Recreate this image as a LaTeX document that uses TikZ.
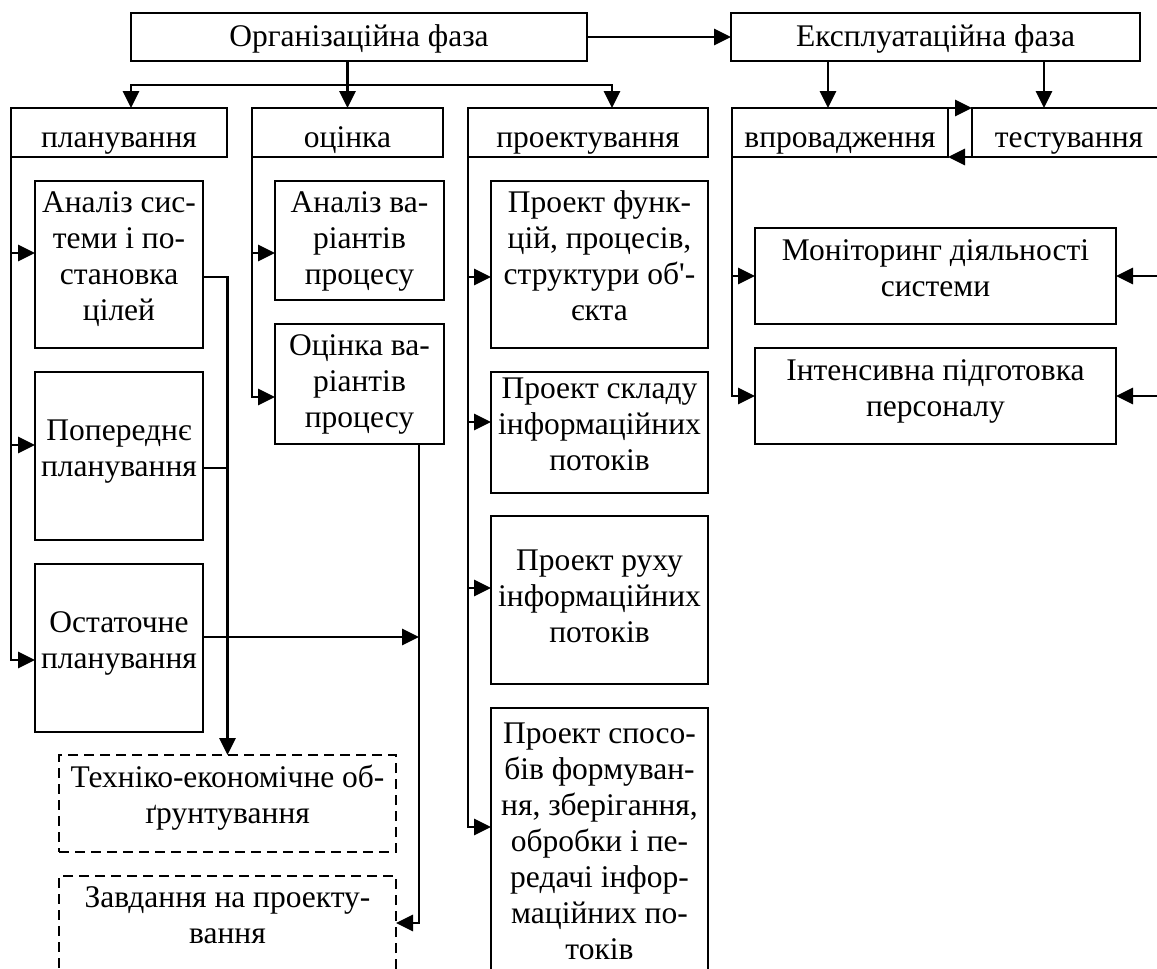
\documentclass[tikz,border=0pt]{standalone}
\usepackage{fontspec}
\setmainfont{Liberation Serif}[Ligatures=TeXOff]
\usetikzlibrary{arrows.meta}
% box frame from (x1,y1) to (x2,y2), text with first baseline at y = #7
\newcommand\bx[8]{%
  \node[#6, minimum width={#4-#2}, minimum height={#5-#3}] (#1) at ({(#2+#4)/2},{(#3+#5)/2}) {};
  \node[txt, anchor=north] (#1-t) at ({(#2+#4)/2},{#7-24}) {\rule{0pt}{24pt}#8};}
\begin{document}
\begin{tikzpicture}[x=1pt,y=-1pt,
  box/.style={draw, line width=2.4pt, inner sep=0pt, outer sep=0pt},
  dbox/.style={box, line width=2.2pt, dash pattern=on 10pt off 6pt},
  txt/.style={inner sep=0pt, outer sep=0pt, align=center, font=\fontsize{31.5}{36}\selectfont},
  conn/.style={line width=2.8pt, -{Triangle[length=17pt,width=16pt]}},
  wire/.style={line width=2.8pt}]
\useasboundingbox (0,0) rectangle (1157,969);
\clip (0,0) rectangle (1157,969);

% phases
\bx{org}{131}{13}{587}{61}{box}{46}{Організаційна фаза}
\bx{exp}{731}{13}{1140}{61}{box}{46}{Експлуатаційна фаза}

% stages
\bx{plan}{11}{108}{227}{157}{box}{147}{планування}
\bx{ocin}{252}{108}{443}{157}{box}{147}{оцінка}
\bx{proj}{468}{108}{708}{157}{box}{147}{проектування}
\bx{vpr}{732}{108}{948}{157}{box}{147}{впровадження}
\bx{test}{972}{108}{1166}{157}{box}{147}{тестування}

% planning
\bx{an1}{35}{181}{203}{348}{box}{212}{Аналіз сис-\\теми і по-\\становка\\цілей}
\bx{pop}{35}{372}{203}{540}{box}{440}{Попереднє\\планування}
\bx{ost}{35}{564}{203}{732}{box}{632}{Остаточне\\планування}

% evaluation
\bx{av1}{275}{181}{444}{300}{box}{212}{Аналіз ва-\\ріантів\\процесу}
\bx{ov2}{275}{324}{444}{444}{box}{355}{Оцінка ва-\\ріантів\\процесу}

% design
\bx{p1}{491}{181}{708}{348}{box}{212}{Проект функ-\\цій, процесів,\\структури об'-\\єкта}
\bx{p2}{491}{372}{708}{493}{box}{398}{Проект складу\\інформаційних\\потоків}
\bx{p3}{491}{516}{708}{684}{box}{570}{Проект руху\\інформаційних\\потоків}
\bx{p4}{491}{708}{708}{1000}{box}{743}{Проект спосо-\\бів формуван-\\ня, зберігання,\\обробки і пе-\\редачі інфор-\\маційних по-\\токів}

% operation
\bx{mon}{755}{228}{1116}{324}{box}{260}{Моніторинг діяльності\\системи}
\bx{int}{755}{348}{1116}{444}{box}{380}{Інтенсивна підготовка\\персоналу}

% documents
\bx{tech}{59}{755}{396}{852}{dbox}{787}{Техніко-економічне об-\\ґрунтування}
\bx{zav}{59}{876}{396}{1000}{dbox}{907}{Завдання на проекту-\\вання}

% helper coordinates
\coordinate (bus) at (0,85);
\coordinate (xP) at (612,0);
\coordinate (xV) at (828,0);
\coordinate (xT) at (1044,0);
\coordinate (rE) at (1160,0);
\coordinate (xO) at (419,0);
\coordinate (yZ) at (0,923);
\coordinate (popR) at ([yshift=-12pt]pop.east);
\coordinate (ostR) at ([yshift=11pt]ost.east);

% phase links
\draw[conn] (org.east) -- (exp.west);
\draw[conn] (ocin.north |- org.south) -- (ocin.north);
\draw[conn] (ocin.north |- bus) -| (plan.north -| org.west);
\draw[conn] (ocin.north |- bus) -| (proj.north -| xP);
\draw[conn] (exp.south -| xV) -- (vpr.north -| xV);
\draw[conn] (exp.south -| xT) -- (test.north -| xT);
\draw[conn] (vpr.north east) -- (test.north west);
\draw[conn] (test.south west) -- (vpr.south east);

% operation links
\draw[conn] (vpr.south west) |- (mon.west);
\draw[conn] (vpr.south west) |- (int.west);
\draw[conn] (mon.east -| rE) -- (mon.east);
\draw[conn] (int.east -| rE) -- (int.east);

% planning links
\draw[conn] (plan.south west) |- ([yshift=11.5pt]an1.west);
\draw[conn] (plan.south west) |- ([yshift=11pt]pop.west);
\draw[conn] (plan.south west) |- ([yshift=-12pt]ost.west);
\draw[conn] ([yshift=-12.5pt]an1.east) -| (tech.north);
\draw[wire] (popR) -- (popR -| tech.north);
\draw[conn] (ostR) -- (ostR -| xO);

% evaluation links
\draw[conn] (ocin.south west) |- ([yshift=-12.5pt]av1.west);
\draw[conn] (ocin.south west) |- ([yshift=-13pt]ov2.west);
\draw[conn] (ov2.south -| xO) |- (yZ -| zav.east);

% design links
\draw[conn] (proj.south west) |- ([yshift=-12.5pt]p1.west);
\draw[conn] (proj.south west) |- ([yshift=10.5pt]p2.west);
\draw[conn] (proj.south west) |- ([yshift=12pt]p3.west);
\draw[conn] (proj.south west) |- ([yshift=27pt]p4.west);
\end{tikzpicture}
\end{document}
